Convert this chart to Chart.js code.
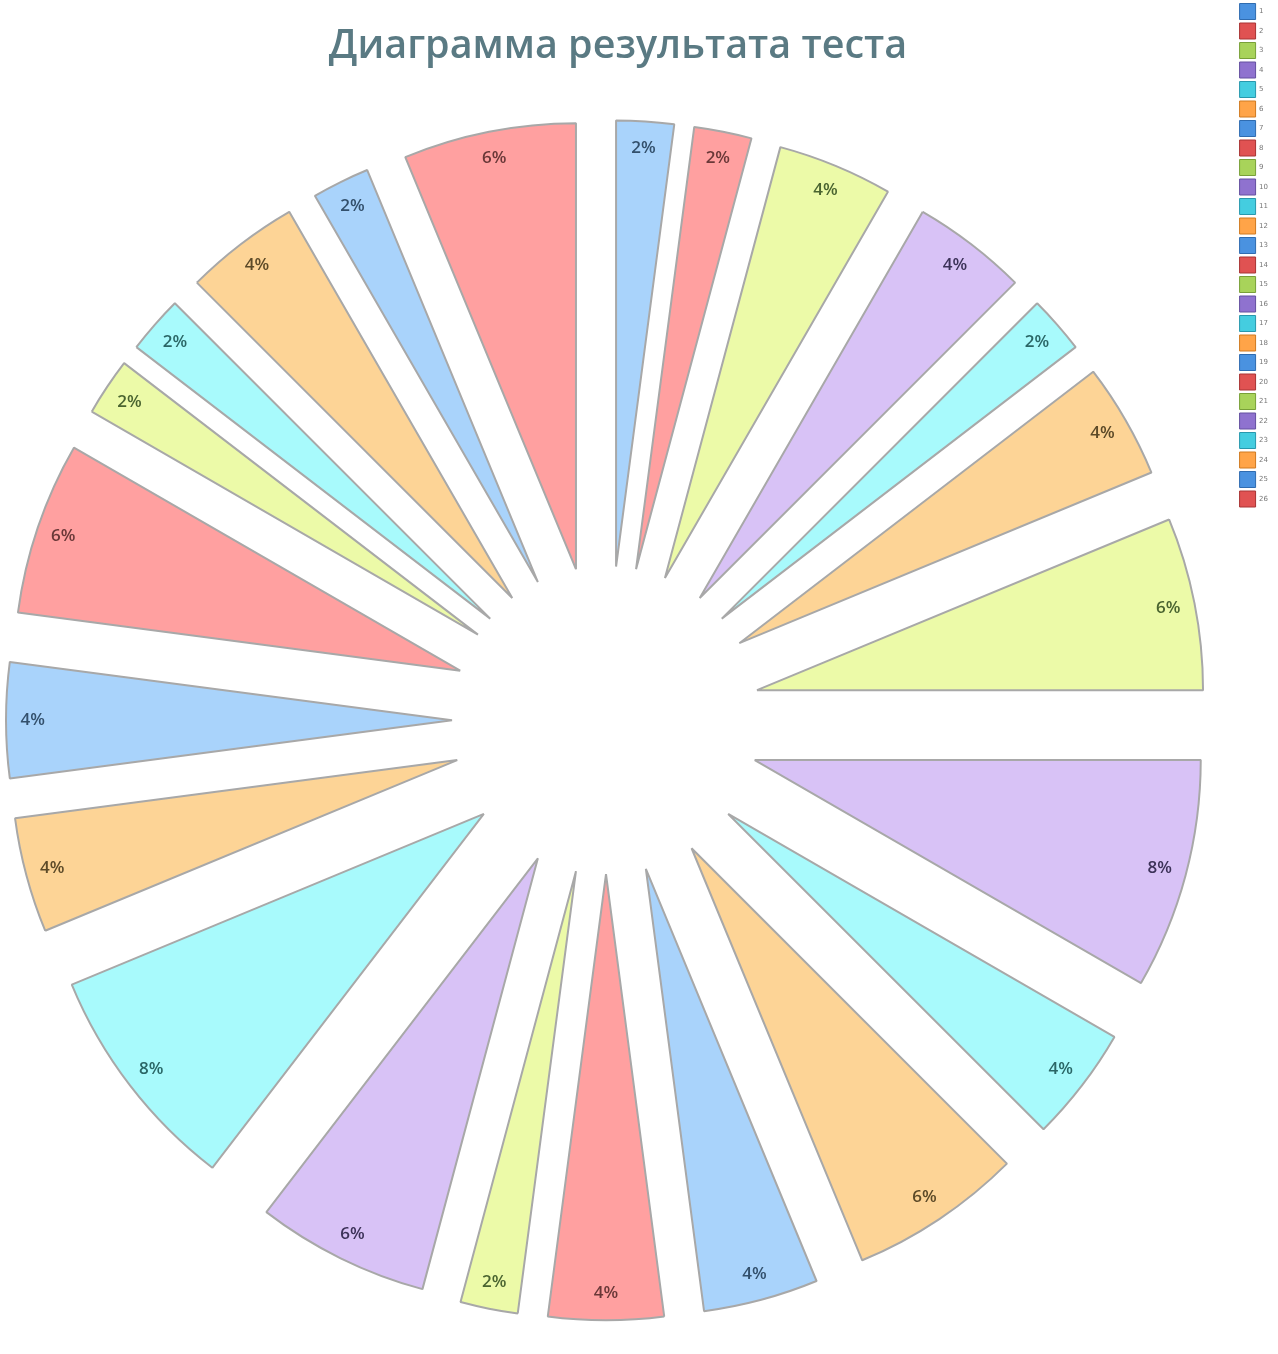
<!DOCTYPE html>
<html><head><meta charset="utf-8">
<script src="https://cdn.jsdelivr.net/npm/chart.js@4.4.1/dist/chart.umd.min.js"></script>
<style>html,body{margin:0;padding:0;background:#fff;}#wrap{width:1278px;height:1354px;position:relative;}</style>
</head><body><div id="wrap"><canvas id="c"></canvas></div>
<script>
// ---- data ----
const titleText = 'Диаграмма результата теста';
const categories = ['1','2','3','4','5','6','7','8','9','10','11','12','13','14','15','16','17','18','19','20','21','22','23','24','25','26'];
const counts = [1,1,2,2,1,2,0,0,3,4,2,3,2,2,1,3,4,2,2,3,1,0,1,2,1,3];

// ---- styles ----
const pastel = ['#a9d3fb','#ffa0a0','#ecfaa8','#d8c2f6','#a8fafc','#fdd496'];
const labelInk = ['#33506c','#6a3838','#4a6430','#3c3258','#2a6666','#5c4a28'];
const legendFill = ['#4a92e0','#e05252','#a8d35a','#8f72cf','#44cde0','#ffa448'];
const legendEdge = ['#2f6cb0','#a83434','#78a038','#6450a0','#2898ad','#d07a20'];
const EXPLODE = 154;     // distance each slice is pulled out from the centre
const LEFT_MARGIN = 6;   // pie hugs the left edge of the plot area

const total = counts.reduce((a,b)=>a+b,0);

const explodePlugin = {
  id: 'explode',
  afterDatasetsUpdate(chart) {
    const ca = chart.chartArea;
    const cy = (ca.top + ca.bottom) / 2;
    chart.getDatasetMeta(0).data.forEach(arc => {
      const cx = ca.left + LEFT_MARGIN + arc.outerRadius + EXPLODE;
      const mid = (arc.startAngle + arc.endAngle) / 2;
      arc.x = cx + Math.cos(mid) * EXPLODE;
      arc.y = cy + Math.sin(mid) * EXPLODE;
    });
  }
};

const labelPlugin = {
  id: 'pctLabels',
  afterDatasetsDraw(chart) {
    const ctx = chart.ctx;
    ctx.save();
    ctx.font = '600 17px "Open Sans", sans-serif';
    ctx.textAlign = 'center';
    ctx.textBaseline = 'middle';
    chart.getDatasetMeta(0).data.forEach((arc, i) => {
      const v = counts[i];
      if (!v) return;
      const mid = (arc.startAngle + arc.endAngle) / 2;
      const r = arc.outerRadius * 0.94;
      ctx.fillStyle = labelInk[i % 6];
      ctx.fillText(Math.round(v / total * 100) + '%', arc.x + Math.cos(mid) * r, arc.y + Math.sin(mid) * r);
    });
    ctx.restore();
  }
};

new Chart(document.getElementById('c'), {
  type: 'pie',
  data: {
    labels: categories,
    datasets: [{
      data: counts,
      backgroundColor: counts.map((_, i) => pastel[i % 6]),
      borderColor: '#a8a8a8',
      borderWidth: 2,
      clip: false
    }]
  },
  options: {
    responsive: true,
    maintainAspectRatio: false,
    devicePixelRatio: 1,
    animation: false,
    radius: 446,
    plugins: {
      tooltip: { enabled: false },
      title: {
        display: true,
        text: titleText,
        fullSize: false,
        color: '#5a7a83',
        font: { family: '"Open Sans", sans-serif', size: 39.5, weight: '600' },
        padding: { top: 23, bottom: 16 }
      },
      legend: {
        position: 'right',
        align: 'start',
        labels: {
          boxWidth: 16,
          boxHeight: 16,
          padding: 3.5,
          color: '#777',
          font: { family: '"DejaVu Sans", sans-serif', size: 7 },
          generateLabels: () => categories.map((c, i) => ({
            text: c, fillStyle: legendFill[i % 6], strokeStyle: legendEdge[i % 6],
            lineWidth: 1, hidden: false, index: i, fontColor: '#777'
          }))
        }
      }
    }
  },
  plugins: [explodePlugin, labelPlugin]
});
</script></body></html>
